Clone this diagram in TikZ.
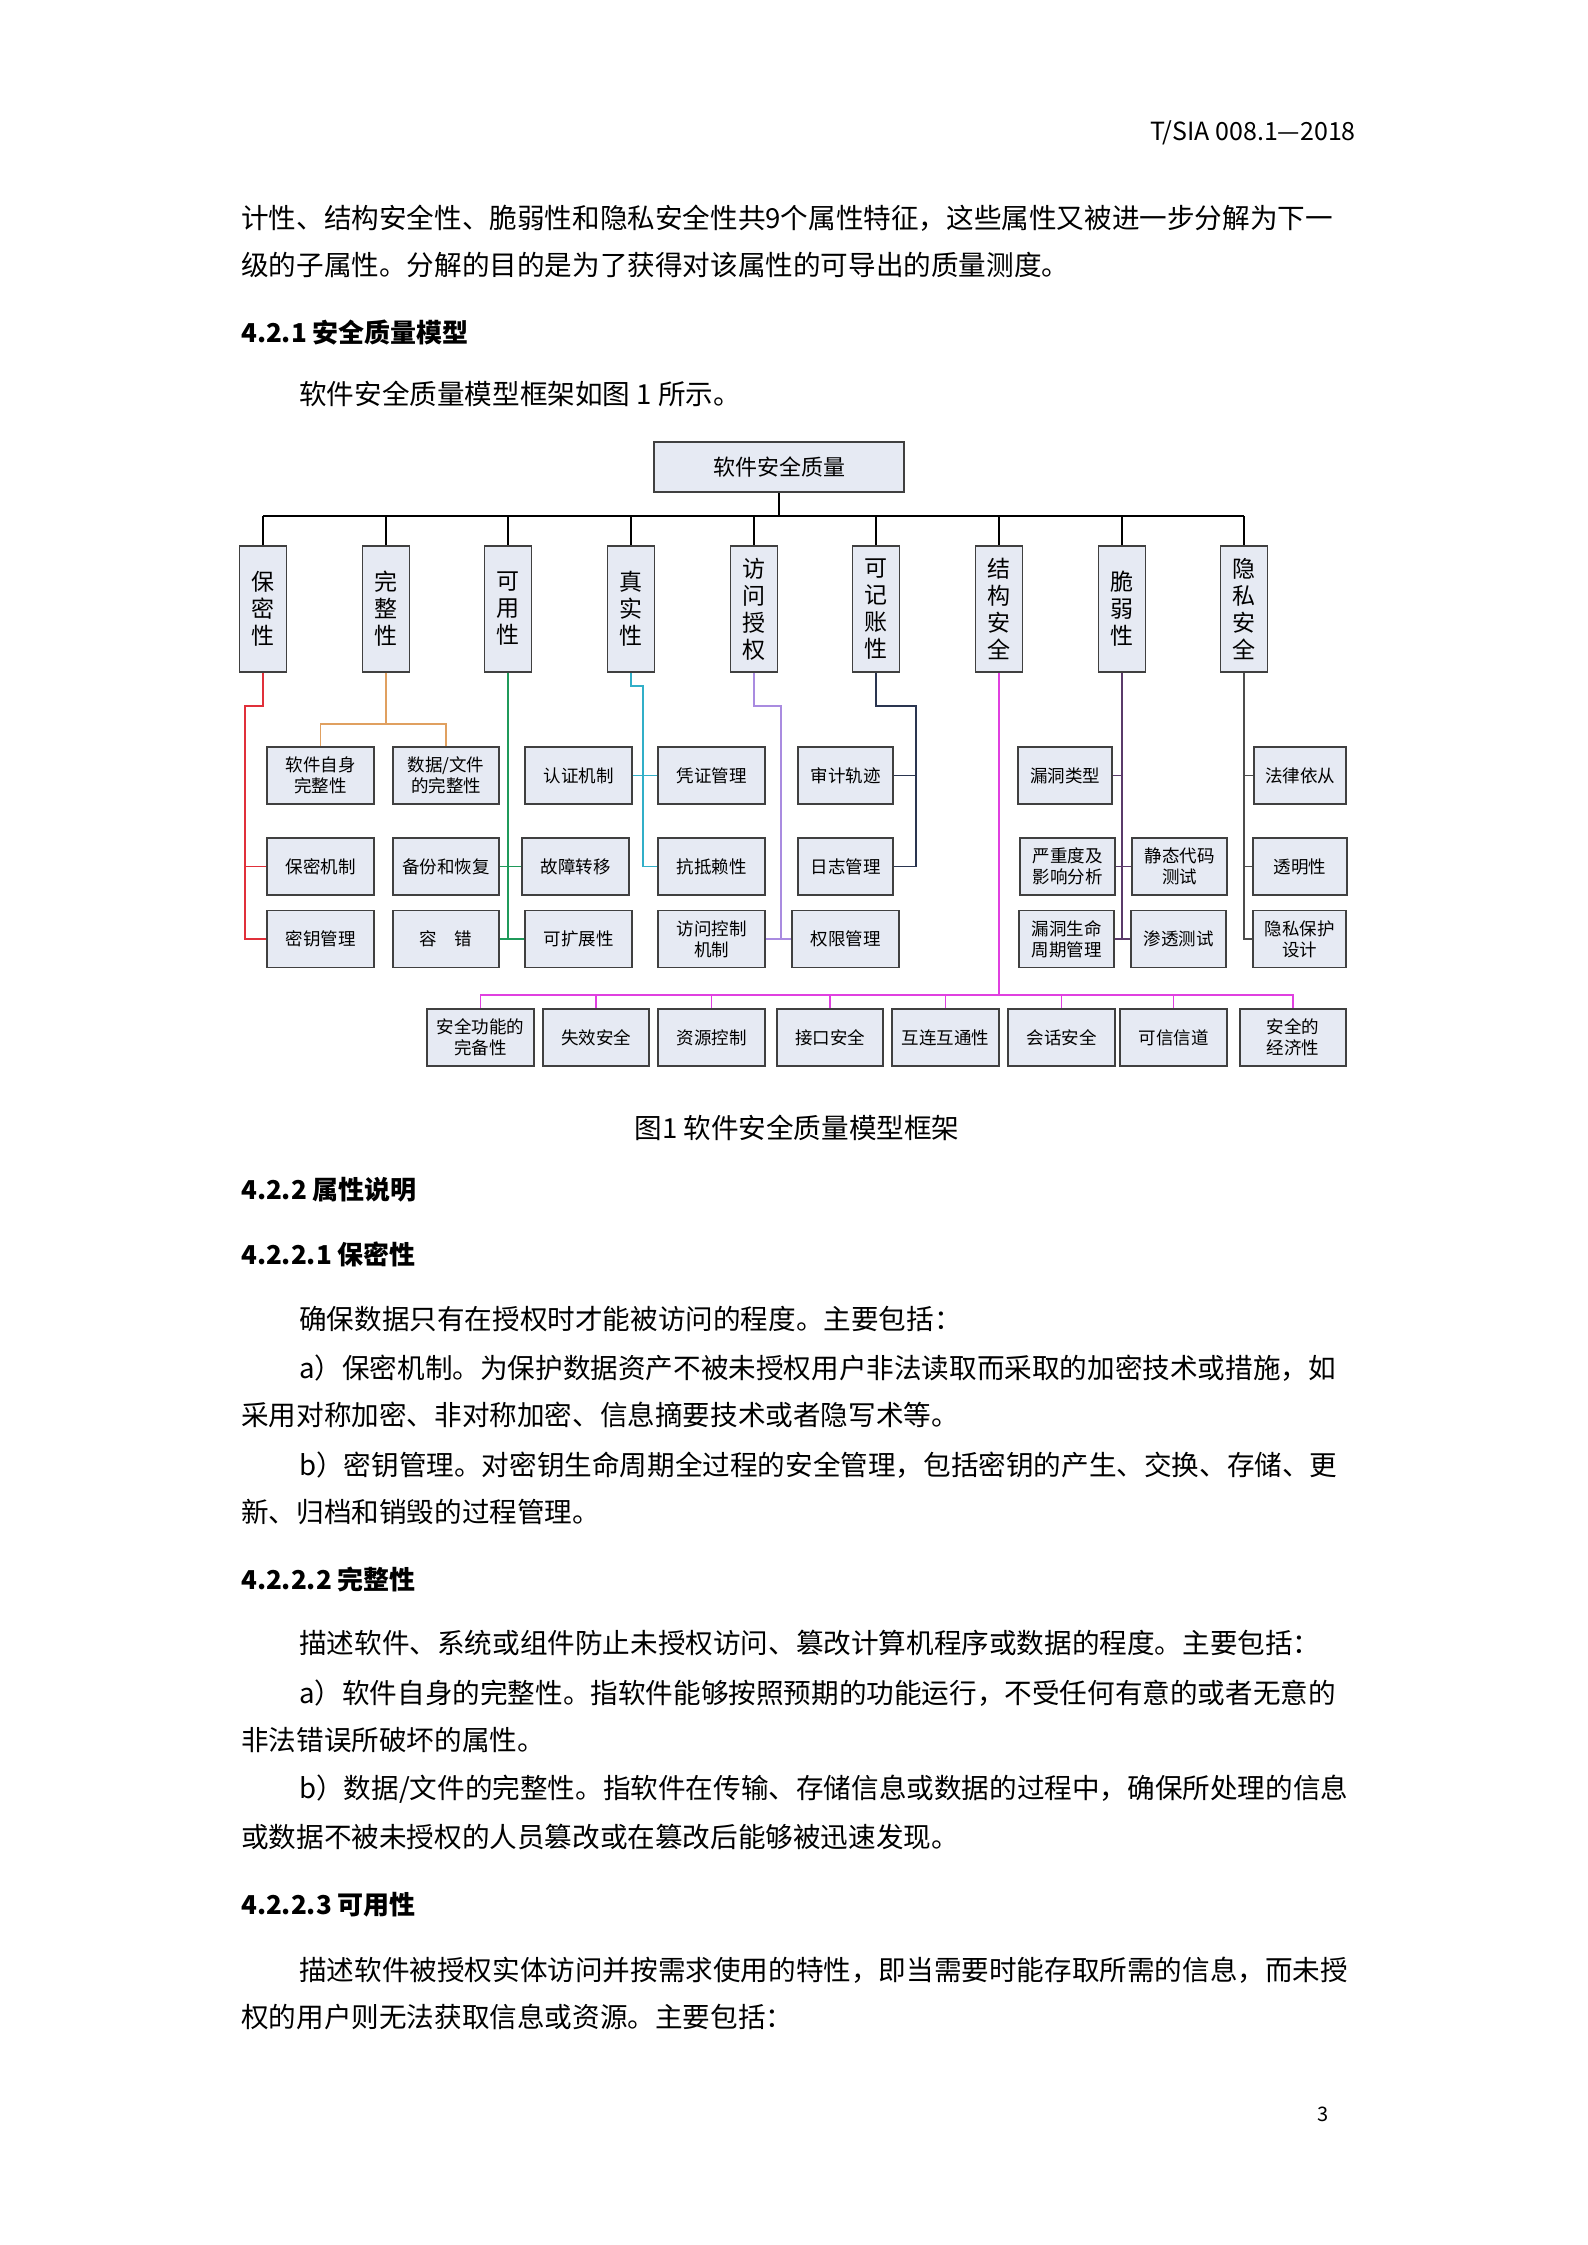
\documentclass[tikz,border=0pt]{standalone}
\usepackage{fontspec}
\setmainfont{Noto Sans CJK SC}
\newfontfamily\cjk{Noto Sans CJK SC}
\begin{document}
\begin{tikzpicture}[x=1pt,y=-1pt,
 box/.style={draw=black!75,line width=1.6pt,fill=boxc,align=center,inner sep=0pt,font=\fontsize{17.5}{21}\selectfont},
 cat/.style={box,minimum width=47pt,minimum height=126pt,font=\fontsize{23}{27}\selectfont},
 sub/.style={box,minimum height=57pt},
 txt/.style={anchor=west,inner sep=0pt,font=\fontsize{27.6}{32}\selectfont},
 hd/.style={anchor=west,inner sep=0pt,font=\fontsize{26}{30}\selectfont\bfseries},
 ln/.style={line width=1.6pt}]
\definecolor{boxc}{HTML}{E6EAF3}
\useasboundingbox[fill=white] (0,0) rectangle (1587,2245);
% page text
\node[anchor=east,inner sep=0pt,font=\fontsize{25}{28}\selectfont] (hdr) at (1356,133) {T/SIA 008.1—2018};
\node[txt] (l1) at (241,218) {计性、结构安全性、脆弱性和隐私安全性共9个属性特征，这些属性又被进一步分解为下一};
\node[txt] (l2) at (241,265) {级的子属性。分解的目的是为了获得对该属性的可导出的质量测度。};
\node[hd] (h1) at (241,333) {4.2.1 安全质量模型};
\node[txt] (l3) at (299,394) {软件安全质量模型框架如图 1 所示。};
\node[txt,anchor=center] (cap) at (797,1128) {图1 软件安全质量模型框架};
\node[hd] (h2) at (241,1190) {4.2.2 属性说明};
\node[hd] (h3) at (241,1254) {4.2.2.1 保密性};
\node[txt] (l4) at (299,1319) {确保数据只有在授权时才能被访问的程度。主要包括：};
\node[txt] (l5) at (299,1368) {a）保密机制。为保护数据资产不被未授权用户非法读取而采取的加密技术或措施，如};
\node[txt] (l6) at (241,1415) {采用对称加密、非对称加密、信息摘要技术或者隐写术等。};
\node[txt] (l7) at (299,1465) {b）密钥管理。对密钥生命周期全过程的安全管理，包括密钥的产生、交换、存储、更};
\node[txt] (l8) at (241,1512) {新、归档和销毁的过程管理。};
\node[hd] (h4) at (241,1579) {4.2.2.2 完整性};
\node[txt] (l9) at (299,1643) {描述软件、系统或组件防止未授权访问、篡改计算机程序或数据的程度。主要包括：};
\node[txt] (l10) at (299,1693) {a）软件自身的完整性。指软件能够按照预期的功能运行，不受任何有意的或者无意的};
\node[txt] (l11) at (241,1740) {非法错误所破坏的属性。};
\node[txt] (l12) at (299,1789) {b）数据/文件的完整性。指软件在传输、存储信息或数据的过程中，确保所处理的信息};
\node[txt] (l13) at (241,1837) {或数据不被未授权的人员篡改或在篡改后能够被迅速发现。};
\node[hd] (h5) at (241,1905) {4.2.2.3 可用性};
\node[txt] (l14) at (299,1970) {描述软件被授权实体访问并按需求使用的特性，即当需要时能存取所需的信息，而未授};
\node[txt] (l15) at (241,2017) {权的用户则无法获取信息或资源。主要包括：};
\node[inner sep=0pt,font=\fontsize{20}{24}\selectfont] (pn) at (1323,2114) {3};
% root and bus
\node[box,minimum width=250pt,minimum height=50pt,font=\fontsize{22}{26}\selectfont] (root) at (779,467) {软件安全质量};
\coordinate (bl) at (263,516); \coordinate (br) at (1244,516);
\draw[ln] (root.south) -- (root.south |- bl);
\draw[ln] (bl) -- (br);
\foreach \n/\x/\t in {k1/263/{保\\密\\性},k2/386/{完\\整\\性},k3/508/{可\\用\\性},k4/631/{真\\实\\性},k5/754/{访\\问\\授\\权},k6/876/{可\\记\\账\\性},k7/999/{结\\构\\安\\全},k8/1122/{脆\\弱\\性},k9/1244/{隐\\私\\安\\全}}{
 \node[cat] (\n) at (\x,609) {\t};
 \draw[ln] (\n.north) -- (\n.north |- bl);
}
\def\ra{775.5}\def\rb{866.5}\def\rc{939}\def\rd{1037.5}
% sub boxes
\node[sub,minimum width=107pt] (a1) at (320.5,\ra) {软件自身\\完整性};
\node[sub,minimum width=106pt] (a2) at (446,\ra) {数据/文件\\的完整性};
\node[sub,minimum width=107pt] (a3) at (578.5,\ra) {认证机制};
\node[sub,minimum width=107pt] (a4) at (711.5,\ra) {凭证管理};
\node[sub,minimum width=95pt] (a5) at (845.5,\ra) {审计轨迹};
\node[sub,minimum width=94pt] (a6) at (1065,\ra) {漏洞类型};
\node[sub,minimum width=92pt] (a7) at (1300,\ra) {法律依从};
\node[sub,minimum width=107pt] (b1) at (320.5,\rb) {保密机制};
\node[sub,minimum width=106pt] (b2) at (446,\rb) {备份和恢复};
\node[sub,minimum width=107pt] (b3) at (575.5,\rb) {故障转移};
\node[sub,minimum width=107pt] (b4) at (711.5,\rb) {抗抵赖性};
\node[sub,minimum width=95pt] (b5) at (845.5,\rb) {日志管理};
\node[sub,minimum width=95pt] (b6) at (1067.5,\rb) {严重度及\\影响分析};
\node[sub,minimum width=95pt] (b7) at (1179.5,\rb) {静态代码\\测试};
\node[sub,minimum width=94pt] (b8) at (1300,\rb) {透明性};
\node[sub,minimum width=107pt] (c1) at (320.5,\rc) {密钥管理};
\node[sub,minimum width=106pt] (c2) at (446,\rc) {容\quad 错};
\node[sub,minimum width=107pt] (c3) at (578.5,\rc) {可扩展性};
\node[sub,minimum width=107pt] (c4) at (711.5,\rc) {访问控制\\机制};
\node[sub,minimum width=107pt] (c5) at (845.5,\rc) {权限管理};
\node[sub,minimum width=95pt] (c6) at (1066.5,\rc) {漏洞生命\\周期管理};
\node[sub,minimum width=95pt] (c7) at (1178.5,\rc) {渗透测试};
\node[sub,minimum width=93pt] (c8) at (1299.5,\rc) {隐私保护\\设计};
\node[sub,minimum width=107pt] (d1) at (480.5,\rd) {安全功能的\\完备性};
\node[sub,minimum width=106pt] (d2) at (596,\rd) {失效安全};
\node[sub,minimum width=107pt] (d3) at (711.5,\rd) {资源控制};
\node[sub,minimum width=106pt] (d4) at (830,\rd) {接口安全};
\node[sub,minimum width=107pt] (d5) at (945.5,\rd) {互连互通性};
\node[sub,minimum width=107pt] (d6) at (1061.5,\rd) {会话安全};
\node[sub,minimum width=107pt] (d7) at (1173.5,\rd) {可信信道};
\node[sub,minimum width=106pt] (d8) at (1293,\rd) {安全的\\经济性};
\definecolor{cR}{HTML}{E0303A}\definecolor{cO}{HTML}{E0A060}\definecolor{cG}{HTML}{1F9A5A}
\definecolor{cC}{HTML}{31AFC8}\definecolor{cP}{HTML}{A98BE0}\definecolor{cN}{HTML}{2A3550}
\definecolor{cM}{HTML}{E040E0}\definecolor{cD}{HTML}{5A3A6A}
% red
\draw[ln,cR] (k1.south) -- (263,706) -- (245,706) -- (245,\rc) -- (c1.west);
\draw[ln,cR] (245,\rb) -- (b1.west);
% orange
\draw[ln,cO] (k2.south) -- (386,724);
\draw[ln,cO] (a1.north) -- (a1.north |- 0,724) -- (a2.north |- 0,724) -- (a2.north);
% green
\draw[ln,cG] (k3.south) -- (508,\rc);
\draw[ln,cG] (b2.east) -- (b3.west);
\draw[ln,cG] (c2.east) -- (c3.west);
% cyan
\draw[ln,cC] (k4.south) -- (631,686) -- (643,686) -- (643,\rb);
\draw[ln,cC] (a3.east) -- (a4.west);
\draw[ln,cC] (643,\rb) -- (b4.west);
% purple
\draw[ln,cP] (k5.south) -- (754,706) -- (781,706) -- (781,\rc);
\draw[ln,cP] (c4.east) -- (c5.west);
% navy
\draw[ln,cN] (k6.south) -- (876,706) -- (916,706) -- (916,\rb) -- (b5.east);
\draw[ln,cN] (a5.east) -- (916,\ra);
% magenta
\def\rm{995}
\draw[ln,cM] (k7.south) -- (999,\rm);
\draw[ln,cM] (d1.north) -- (d1.north |- 0,\rm) -- (d8.north |- 0,\rm) -- (d8.north);
\foreach \n in {d2,d3,d4,d5,d6,d7}{\draw[ln,cM] (\n.north) -- (\n.north |- 0,\rm);}
% dark purple
\draw[ln,cD] (k8.south) -- (1122,\rc);
\draw[ln,cD] (a6.east) -- (1122,\ra);
\draw[ln,cD] (b6.east) -- (b7.west);
\draw[ln,cD] (c6.east) -- (c7.west);
% gray
\draw[ln,black!70] (k9.south) -- (1244,\rc) -- (c8.west);
\draw[ln,black!70] (1244,\ra) -- (a7.west);
\draw[ln,black!70] (1244,\rb) -- (b8.west);
\end{tikzpicture}
\end{document}
